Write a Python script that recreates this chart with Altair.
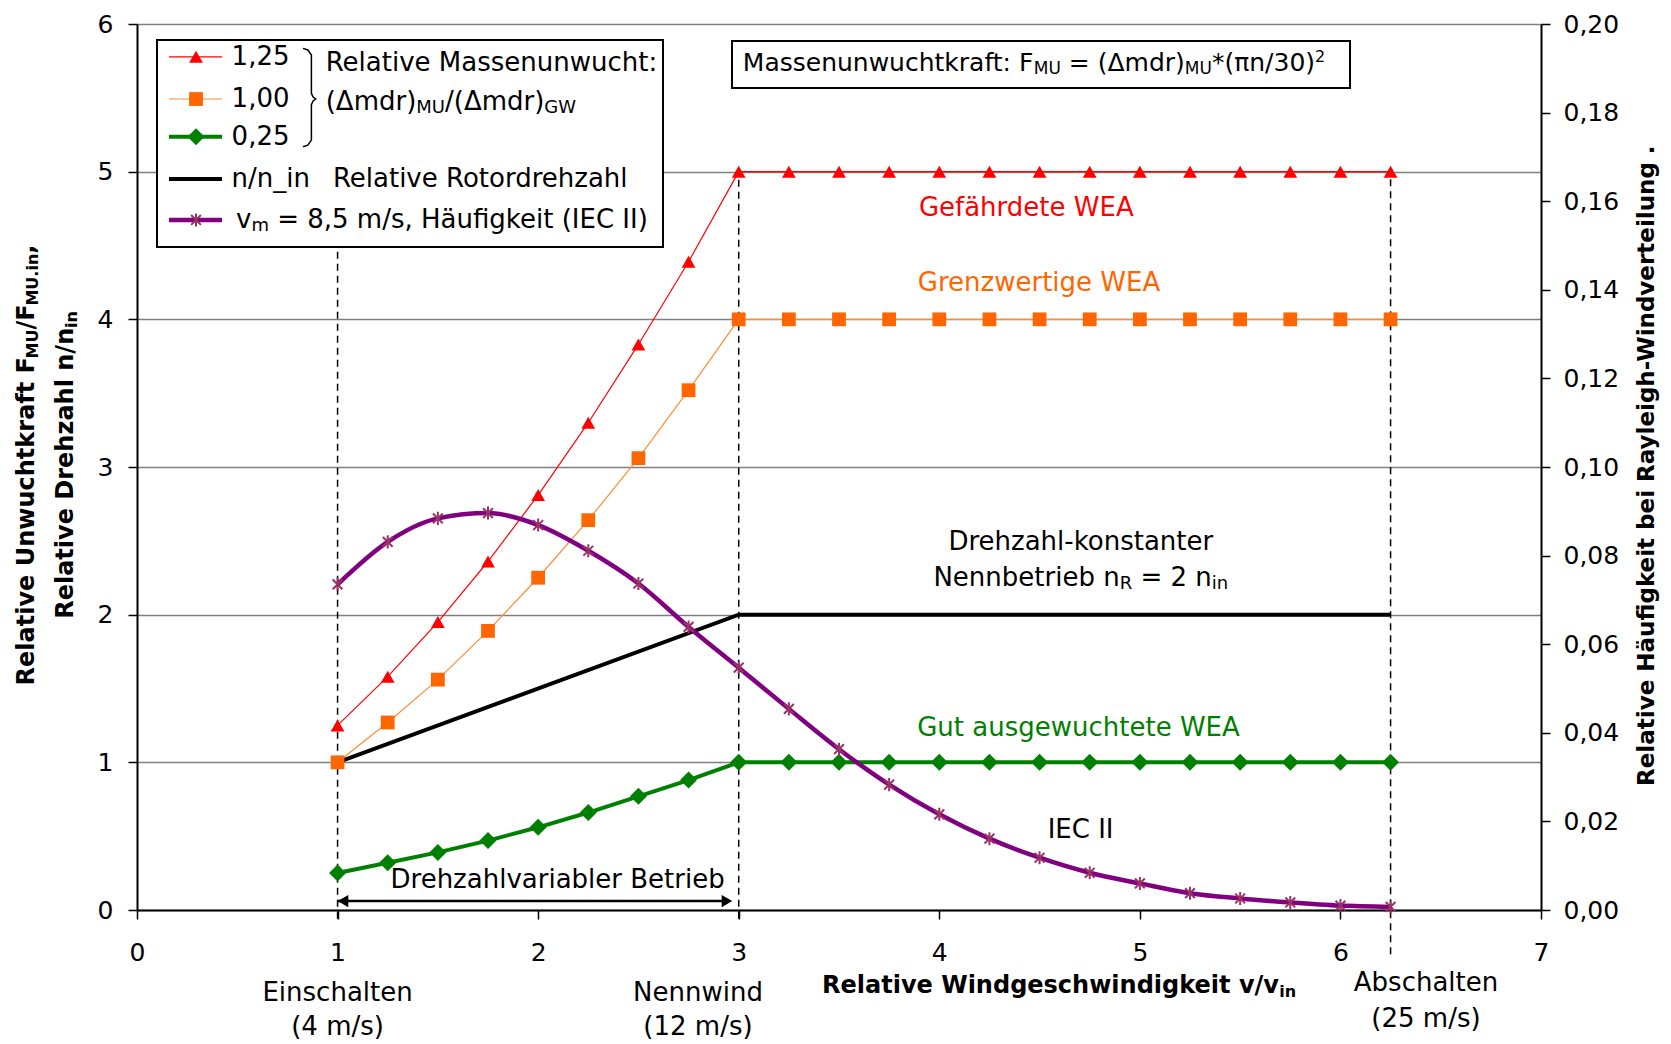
import altair as alt
import pandas as pd

# ---------------- data ----------------
wind = [1.0, 1.25, 1.5, 1.75, 2.0, 2.25, 2.5, 2.75, 3.0, 3.25, 3.5, 3.75,
        4.0, 4.25, 4.5, 4.75, 5.0, 5.25, 5.5, 5.75, 6.0, 6.25]
force_125 = [1.25, 1.58, 1.95, 2.36, 2.81, 3.30, 3.83, 4.39, 5.00, 5.00, 5.00,
             5.00, 5.00, 5.00, 5.00, 5.00, 5.00, 5.00, 5.00, 5.00, 5.00, 5.00]
force_100 = [1.00, 1.27, 1.56, 1.89, 2.25, 2.64, 3.06, 3.52, 4.00, 4.00, 4.00,
             4.00, 4.00, 4.00, 4.00, 4.00, 4.00, 4.00, 4.00, 4.00, 4.00, 4.00]
force_025 = [0.25, 0.32, 0.39, 0.47, 0.56, 0.66, 0.77, 0.88, 1.00, 1.00, 1.00,
             1.00, 1.00, 1.00, 1.00, 1.00, 1.00, 1.00, 1.00, 1.00, 1.00, 1.00]
speed_x = [1.0, 3.0, 6.25]
speed_y = [1.0, 2.0, 2.0]
freq_iec2 = [0.0735, 0.0831, 0.0884, 0.0896, 0.0869, 0.0811, 0.0737, 0.0639,
             0.0547, 0.0454, 0.0363, 0.0283, 0.0216, 0.0161, 0.0118, 0.0084,
             0.0060, 0.0038, 0.0026, 0.0017, 0.0010, 0.0007]
x_ticks = [0, 1, 2, 3, 4, 5, 6, 7]
y_ticks = [0, 1, 2, 3, 4, 5, 6]
freq_ticks = [0.0, 0.02, 0.04, 0.06, 0.08, 0.10, 0.12, 0.14, 0.16, 0.18, 0.20]
legend_labels = ["1,25", "1,00", "0,25", "n/n_in"]
event_x = [1.0, 3.0, 6.25]          # Einschalten, Nennwind, Abschalten

# ---------------- layout / style ----------------
PW, PH = 1404, 886
KX, KY = PW / 7.0, PH / 6.0
FONT = "DejaVu Sans"
FS, FS_SUB = 26, 18
FB, FB_SUB = 24, 16
SUB = 6.0
RED, ORANGE, ORANGE_L, GREEN, PURPLE, STAR_C = "#FF0000", "#FF6600", "#FF8C33", "#008000", "#800080", "#993366"
STAR = "M0,-1L0,1M-0.75,-0.75L0.75,0.75M-0.75,0.75L0.75,-0.75"

xs = alt.Scale(domain=[0, 7], nice=False, zero=False)
ys = alt.Scale(domain=[0, 6], nice=False, zero=False)
fs = alt.Scale(domain=[0, 0.2], nice=False, zero=False)

xaxis = alt.Axis(values=x_ticks, format="d", title=None, grid=False, labelFont=FONT,
                 labelFontSize=25, labelColor="black", labelPadding=21, tickSize=9,
                 tickColor="black", tickWidth=1.5, domainColor="black", domainWidth=2,
                 labelFlush=False)
yaxis = alt.Axis(values=y_ticks, format="d", title=None, grid=True, gridColor="#7f7f7f",
                 gridWidth=1.3, labelFont=FONT, labelFontSize=25, labelColor="black",
                 labelPadding=15, tickSize=9, tickColor="black", tickWidth=1.5,
                 domainColor="black", domainWidth=2)
raxis = alt.Axis(values=freq_ticks, orient="right", title=None, grid=False,
                 labelExpr="replace(format(datum.value, '.2f'), '.', ',')",
                 labelFont=FONT, labelFontSize=25, labelColor="black", labelPadding=13,
                 tickSize=9, tickColor="black", tickWidth=1.5, domainColor="black",
                 domainWidth=2)

def X(f="x"):
    return alt.X(f"{f}:Q", scale=xs, axis=xaxis)

def Y(f="y"):
    return alt.Y(f"{f}:Q", scale=ys, axis=yaxis)

# DejaVu Sans advance widths (units of 2048)
DJV = {' ': 651, '(': 799, ')': 799, '*': 1024, ',': 651, '-': 739, '.': 651, '/': 690,
       ':': 690, '=': 1716, '²': 821, 'A': 1401, 'C': 1430, 'D': 1577, 'E': 1294,
       'F': 1178, 'G': 1587, 'H': 1540, 'I': 604, 'M': 1767, 'N': 1532, 'R': 1423,
       'U': 1499, 'W': 2025, 'a': 1255, 'b': 1300, 'c': 1126, 'd': 1300, 'e': 1260,
       'f': 721, 'g': 1300, 'h': 1298, 'i': 569, 'k': 1186, 'l': 569, 'm': 1995,
       'n': 1298, 'o': 1253, 'r': 842, 's': 1067, 't': 803, 'u': 1298, 'v': 1212,
       'w': 1675, 'y': 1212, 'z': 1075, 'ä': 1255, 'Δ': 1401, 'π': 1233}
DJVB = {' ': 713, '(': 936, ')': 936, ',': 778, '.': 778, '/': 748, '-': 852,
        'F': 1290, 'M': 2036, 'R': 1577, 'U': 1669, 'D': 1696, 'W': 2268, 'H': 1714,
        'a': 1382, 'c': 1215, 'd': 1466, 'e': 1382, 'f': 891, 'g': 1466, 'h': 1458,
        'i': 702, 'k': 1362, 'l': 702, 'n': 1458, 'r': 1010, 's': 1219, 't': 979,
        'u': 1458, 'v': 1333, 'w': 1890, 'y': 1333, 'z': 1194, 'ä': 1382}
for d in "0123456789":
    DJV[d] = 1303
    DJVB[d] = 1425

def tw(s, size, bold=False):
    tab = DJVB if bold else DJV
    return sum(tab.get(c, 1400 if bold else 1250) for c in s) / 2048.0 * size

def compose(parts, x, y, bold=False, align="left", rotated=False, color="black",
            size=None, ssize=None):
    if size is None:
        size, ssize = (FB, FB_SUB) if bold else (FS, FS_SUB)
    rows = []
    widths = [tw(t, ssize if sub else size, bold) for t, sub in parts]
    total = sum(widths)
    if not rotated:
        cur = x * KX - (total / 2.0 if align == "center" else 0.0)
        for (t, sub), w in zip(parts, widths):
            lead = len(t) - len(t.lstrip())
            off = tw(t[:lead], ssize if sub else size, bold)
            rows.append(dict(text=t.strip(), x=(cur + off) / KX,
                             y=y - (SUB / KY if sub else 0.0),
                             size=ssize if sub else size, color=color))
            cur += w
    else:
        cur = y * KY - total / 2.0
        for (t, sub), w in zip(parts, widths):
            lead = len(t) - len(t.lstrip())
            off = tw(t[:lead], ssize if sub else size, bold)
            rows.append(dict(text=t.strip(), x=x + (SUB / KX if sub else 0.0),
                             y=(cur + off) / KY, size=ssize if sub else size, color=color))
            cur += w
    return rows

def text_layer(rows, align, bold=False, angle=0):
    df = pd.DataFrame(rows)
    return alt.Chart(df).mark_text(align=align, baseline="middle", font=FONT,
                                   fontWeight="bold" if bold else "normal",
                                   angle=angle).encode(
        x=X(), y=Y(), text="text:N",
        size=alt.Size("size:Q", scale=None, legend=None),
        color=alt.Color("color:N", scale=None, legend=None))

# ---------------- series ----------------
LEG_ROWS = [5.778, 5.492, 5.237, 4.950, 4.673]
LEG_LINE_X = [0.1595, 0.4238]
LEG_MARK_X = 0.2942

def line_df(xv, yv, row_y):
    a = pd.DataFrame({"x": xv, "y": yv, "grp": "s"})
    b = pd.DataFrame({"x": LEG_LINE_X, "y": [row_y, row_y], "grp": "l"})
    return pd.concat([a, b], ignore_index=True)

def pts_df(xv, yv, row_y):
    a = pd.DataFrame({"x": xv, "y": yv})
    b = pd.DataFrame({"x": [LEG_MARK_X], "y": [row_y]})
    return pd.concat([a, b], ignore_index=True)

def series_line(df, color, width):
    return alt.Chart(df).mark_line(color=color, strokeWidth=width).encode(
        x=X(), y=Y(), detail="grp:N")

layers = []

# dashed event lines
ev = pd.DataFrame({"x": event_x, "y": [-0.06, -0.06, -0.30], "y2": [4.49, 5.0, 5.0]})
layers.append(alt.Chart(ev).mark_rule(color="black", strokeWidth=1.5, strokeDash=[7, 5]).encode(
    x=X(), y=Y(), y2="y2:Q"))

layers.append(series_line(line_df(wind, force_125, LEG_ROWS[0]), RED, 1.2))
layers.append(series_line(line_df(wind, force_100, LEG_ROWS[1]), ORANGE_L, 1.2))
layers.append(series_line(line_df(speed_x, speed_y, LEG_ROWS[3]), "black", 4))
layers.append(series_line(line_df(wind, force_025, LEG_ROWS[2]), GREEN, 4))

layers.append(alt.Chart(pts_df(wind, force_125, LEG_ROWS[0])).mark_point(
    shape="triangle-up", filled=True, color=RED, size=190, opacity=1).encode(x=X(), y=Y()))
layers.append(alt.Chart(pts_df(wind, force_100, LEG_ROWS[1])).mark_point(
    shape="square", filled=True, color=ORANGE, size=190, opacity=1).encode(x=X(), y=Y()))
layers.append(alt.Chart(pts_df(wind, force_025, LEG_ROWS[2])).mark_point(
    shape="diamond", filled=True, color=GREEN, size=290, opacity=1).encode(x=X(), y=Y()))

# double arrow "Drehzahlvariabler Betrieb"
arrow_x = [1.0, 2.94]
arrow_y = [0.0609, 0.0609]
layers.append(alt.Chart(pd.DataFrame({"x": arrow_x, "y": arrow_y})).mark_line(
    color="black", strokeWidth=2.5).encode(x=X(), y=Y()))
heads = pd.DataFrame({"x": [1.027, 2.9415], "y": [0.0609, 0.0609],
                      "s": ["triangle-left", "triangle-right"]})
layers.append(alt.Chart(heads).mark_point(filled=True, color="black", size=150, opacity=1).encode(
    x=X(), y=Y(), shape=alt.Shape("s:N", scale=None, legend=None)))

# plain centered annotations
centered = [
    dict(text="Gefährdete WEA", x=4.4338, y=4.7553, size=FS, color=RED),
    dict(text="Grenzwertige WEA", x=4.4972, y=4.2427, size=FS, color=ORANGE),
    dict(text="Gut ausgewuchtete WEA", x=4.6941, y=1.2332, size=FS, color=GREEN),
    dict(text="Drehzahl-konstanter", x=4.7056, y=2.4901, size=FS, color="black"),
    dict(text="IEC II", x=4.7046, y=0.5404, size=FS, color="black"),
    dict(text="Drehzahlvariabler Betrieb", x=2.0970, y=0.2018, size=FS, color="black"),
    dict(text="Einschalten", x=1.0, y=-0.5587, size=FS, color="black"),
    dict(text="(4 m/s)", x=1.0, y=-0.7957, size=FS, color="black"),
    dict(text="Nennwind", x=2.797, y=-0.5587, size=FS, color="black"),
    dict(text="(12 m/s)", x=2.797, y=-0.7957, size=FS, color="black"),
    dict(text="Abschalten", x=6.4267, y=-0.4917, size=FS, color="black"),
    dict(text="(25 m/s)", x=6.4267, y=-0.7368, size=FS, color="black"),
]
layers.append(text_layer(centered, "center"))

left_rows = compose([("Nennbetrieb n", False), ("R", True), (" = 2 n", False), ("in", True)],
                    4.7056, 2.2463, align="center")
layers.append(text_layer(left_rows, "left"))

# x-axis title and left titles
layers.append(text_layer(compose([("Relative Windgeschwindigkeit v/v", False), ("in", True)],
                                 3.4153, -0.5147, bold=True), "left", bold=True))
rot = compose([("Relative Unwuchtkraft F", False), ("MU", True), ("/F", False),
               ("MU.in", True), (",", False)], -0.5504, 3.0135, bold=True, rotated=True)
rot += compose([("Relative Drehzahl n/n", False), ("in", True)], -0.354, 3.0135,
               bold=True, rotated=True)
layers.append(text_layer(rot, "left", bold=True, angle=270))
layers.append(text_layer([dict(text="Relative Häufigkeit bei Rayleigh-Windverteilung  .",
                               x=7.526, y=3.009, size=23, color="black")],
                         "center", bold=True, angle=270))

# legend box + formula box
boxes = pd.DataFrame({"x": [0.0997, 2.9666], "x2": [2.6225, 6.0478],
                      "y": [5.8916, 5.8848], "y2": [4.4898, 5.5665]})
layers.append(alt.Chart(boxes).mark_rect(fill="white", stroke="black", strokeWidth=2).encode(
    x=X(), x2="x2:Q", y=Y(), y2="y2:Q"))

# legend content
leg_lines = [(LEG_ROWS[0], RED, 1.2), (LEG_ROWS[1], ORANGE_L, 1.2), (LEG_ROWS[2], GREEN, 4),
             (LEG_ROWS[3], "black", 4), (LEG_ROWS[4], PURPLE, 4.5)]
for ry, col, w in leg_lines:
    layers.append(alt.Chart(pd.DataFrame({"x": LEG_LINE_X, "y": [ry, ry]})).mark_line(
        color=col, strokeWidth=w).encode(x=X(), y=Y()))
leg_marks = [(LEG_ROWS[0], "triangle-up", RED, 190), (LEG_ROWS[1], "square", ORANGE, 190),
             (LEG_ROWS[2], "diamond", GREEN, 290)]
for ry, shp, col, sz in leg_marks:
    layers.append(alt.Chart(pd.DataFrame({"x": [LEG_MARK_X], "y": [ry]})).mark_point(
        shape=shp, filled=True, color=col, size=sz, opacity=1).encode(x=X(), y=Y()))
layers.append(alt.Chart(pd.DataFrame({"x": [LEG_MARK_X], "y": [LEG_ROWS[4]]})).mark_point(
    shape=STAR, filled=False, color=STAR_C, strokeWidth=2, size=170, opacity=1).encode(
    x=X(), y=Y()))

brace_x = [0.8276, 0.852, 0.8695, 0.8695, 0.878, 0.891, 0.878, 0.8695, 0.8695, 0.852, 0.8276]
brace_y = [5.835, 5.824, 5.79, 5.53, 5.505, 5.492, 5.479, 5.454, 5.214, 5.18, 5.169]
layers.append(alt.Chart(pd.DataFrame({"x": brace_x, "y": brace_y,
                                      "i": list(range(len(brace_x)))})).mark_line(
    color="black", strokeWidth=1.5).encode(x=X(), y=Y(), order="i:Q"))

leg_text = []
for lab, ry in zip(legend_labels, LEG_ROWS[:4]):
    leg_text.append(dict(text=lab, x=0.4717, y=ry, size=FS, color="black"))
leg_text.append(dict(text="Relative Rotordrehzahl", x=0.9767, y=LEG_ROWS[3], size=FS, color="black"))
leg_text.append(dict(text="Relative Massenunwucht:", x=0.9408, y=5.733, size=FS, color="black"))
leg_text += compose([("(Δmdr)", False), ("MU", True), ("/(Δmdr)", False), ("GW", True)],
                    0.9408, 5.473)
leg_text += compose([("v", False), ("m", True), (" = 8,5 m/s, Häufigkeit (IEC II)", False)],
                    0.4936, LEG_ROWS[4])
leg_text += compose([("Massenunwuchtkraft: F", False), ("MU", True), (" = (Δmdr)", False),
                     ("MU", True), ("*(πn/30)", False)], 3.0204, 5.7358, size=25, ssize=17)
layers.append(text_layer(leg_text, "left"))
# superscript square, drawn a little raised and larger than the font's own glyph
sq_x = leg_text[-1]["x"] + tw("*(πn/30)", 25) / KX
layers.append(text_layer([dict(text="2", x=sq_x, y=5.7358 + 6.0 / KY, size=16, color="black")],
                         "left"))

main = alt.layer(*layers)

# ---------------- right axis: Rayleigh frequency ----------------
fdf = pd.DataFrame({"x": wind, "f": freq_iec2})
fline = alt.Chart(fdf).mark_line(color=PURPLE, strokeWidth=4.5, interpolate="monotone").encode(
    x=X(), y=alt.Y("f:Q", scale=fs, axis=raxis))
fpts = alt.Chart(fdf).mark_point(shape=STAR, filled=False, color=STAR_C, strokeWidth=2,
                                 size=170, opacity=1).encode(
    x=X(), y=alt.Y("f:Q", scale=fs, axis=raxis))
right = alt.layer(fline, fpts)

chart = alt.layer(main, right).resolve_scale(y="independent").properties(
    width=PW, height=PH,
    padding={"left": 137, "top": 24, "right": 130, "bottom": 134},
    autosize=alt.AutoSizeParams(type="none"),
    background="white",
).configure_view(stroke=None)

chart.save("out.html", embed_options={"renderer": "svg", "actions": False})
